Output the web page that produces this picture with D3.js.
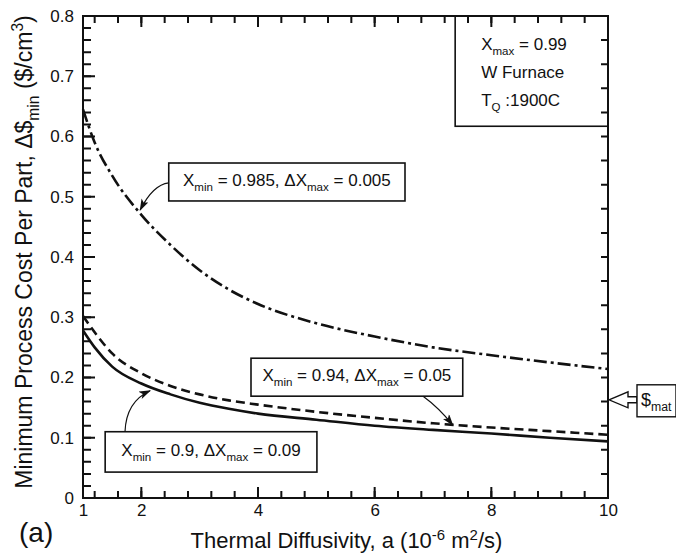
<!DOCTYPE html>
<html>
<head>
<meta charset="utf-8">
<script src="https://cdn.jsdelivr.net/npm/d3@7"></script>
<style>
  body { margin: 0; background: #fff; overflow: hidden; }
  svg { display: block; }
  text { font-family: "Liberation Sans", Arial, sans-serif; fill: #111; }
</style>
</head>
<body>
<div id="chart"></div>
<script>
// SVG area dimensions
var svgWidth = 676;
var svgHeight = 558;

// plot frame (pixel box of the axes)
var chartMargin = { top: 16, right: 68, bottom: 60, left: 83 };
var chartWidth = svgWidth - chartMargin.left - chartMargin.right;
var chartHeight = svgHeight - chartMargin.top - chartMargin.bottom;

// thermal diffusivity values the curves were read at
var diffusivity = [1, 1.2, 1.5, 2, 2.5, 3, 3.5, 4, 5, 6, 7, 8, 9, 10];
// minimum process cost per part, one array per curve
var costXmin0985 = [0.645, 0.59, 0.535, 0.47, 0.42, 0.378, 0.346, 0.322, 0.29, 0.268, 0.25, 0.237, 0.225, 0.214];
var costXmin094 = [0.302, 0.275, 0.24, 0.207, 0.186, 0.172, 0.162, 0.155, 0.143, 0.133, 0.124, 0.117, 0.111, 0.105];
var costXmin09 = [0.278, 0.25, 0.218, 0.19, 0.172, 0.158, 0.148, 0.14, 0.13, 0.12, 0.113, 0.107, 0.1, 0.094];
// material cost marker on the right axis
var matCost = 0.163;

// tick values
var xMajorTicks = [2, 4, 6, 8];
var xTickLabels = [1, 2, 4, 6, 8, 10];
var xMinorTicks = d3.range(3, 25).map(k => +(k * 0.4).toFixed(1));
var yMajorTicks = [0, 0.1, 0.2, 0.3, 0.4, 0.5, 0.6, 0.7, 0.8];
var yMinorTicks = d3.range(1, 40).map(k => +(k * 0.02).toFixed(2));
var yRightTicks = d3.range(1, 20).map(k => +(k * 0.04).toFixed(2));

var svg = d3.select("#chart")
  .append("svg")
  .attr("width", svgWidth)
  .attr("height", svgHeight);

var chartGroup = svg.append("g")
  .attr("transform", `translate(${chartMargin.left}, ${chartMargin.top})`);

var xScale = d3.scaleLinear().domain([1, 10]).range([0, chartWidth]);
var yScale = d3.scaleLinear().domain([0, 0.8]).range([chartHeight, 0]);

// ---- curves
var curveLine = d3.line()
  .x(d => xScale(d[0]))
  .y(d => yScale(d[1]))
  .curve(d3.curveMonotoneX);

var curves = [
  { values: costXmin0985, dash: "13,4,3,4" },
  { values: costXmin094, dash: "9,5" },
  { values: costXmin09, dash: null }
];

chartGroup.selectAll(".curve")
  .data(curves)
  .enter()
  .append("path")
  .attr("class", "curve")
  .attr("d", c => curveLine(diffusivity.map((a, i) => [a, c.values[i]])))
  .attr("fill", "none")
  .attr("stroke", "#111")
  .attr("stroke-width", 2.6)
  .attr("stroke-dasharray", c => c.dash);

// ---- arrow marker
svg.append("defs").append("marker")
  .attr("id", "head")
  .attr("viewBox", "0 0 12 8")
  .attr("refX", 11)
  .attr("refY", 4)
  .attr("markerWidth", 12)
  .attr("markerHeight", 8)
  .attr("markerUnits", "userSpaceOnUse")
  .attr("orient", "auto")
  .append("path")
  .attr("d", "M0,0 L12,4 L0,8 L3,4 Z")
  .attr("fill", "#111");

// text with subscripts: parts = [[text, "sub"|"sup"|null], ...]
function richText(sel, parts, size) {
  var t = sel.attr("font-size", size);
  var shift = 0;
  parts.forEach(function(p) {
    var target = p[1] === "sub" ? size * 0.3 : p[1] === "sup" ? -size * 0.38 : 0;
    t.append("tspan")
      .attr("dy", target - shift)
      .attr("font-size", p[1] ? size * 0.68 : size)
      .text(p[0]);
    shift = target;
  });
  return t;
}

// ---- labelled boxes (positions in data units)
var labelBoxes = [
  { x0: 2.47, x1: 6.52, y0: 0.556, y1: 0.493,
    parts: [["X", null], ["min", "sub"], [" = 0.985, \u0394X", null], ["max", "sub"], [" = 0.005", null]],
    arrow: { from: [2.47, 0.523], ctrl: [2.2, 0.52], to: [1.98, 0.478] } },
  { x0: 3.88, x1: 7.51, y0: 0.232, y1: 0.169,
    parts: [["X", null], ["min", "sub"], [" = 0.94, \u0394X", null], ["max", "sub"], [" = 0.05", null]],
    arrow: { from: [6.83, 0.169], ctrl: [7.1, 0.15], to: [7.34, 0.121] } },
  { x0: 1.38, x1: 5.01, y0: 0.11, y1: 0.043,
    parts: [["X", null], ["min", "sub"], [" = 0.9, \u0394X", null], ["max", "sub"], [" = 0.09", null]],
    arrow: { from: [1.72, 0.11], ctrl: [1.74, 0.16], to: [2.15, 0.178] } }
];

labelBoxes.forEach(function(b) {
  chartGroup.append("rect")
    .attr("x", xScale(b.x0))
    .attr("y", yScale(b.y0))
    .attr("width", xScale(b.x1) - xScale(b.x0))
    .attr("height", yScale(b.y1) - yScale(b.y0))
    .attr("fill", "#fff")
    .attr("stroke", "#111")
    .attr("stroke-width", 1.6);
  chartGroup.append("text")
    .attr("x", (xScale(b.x0) + xScale(b.x1)) / 2)
    .attr("y", (yScale(b.y0) + yScale(b.y1)) / 2 + 4)
    .attr("text-anchor", "middle")
    .call(richText, b.parts, 17);
  var p = d3.path();
  p.moveTo(xScale(b.arrow.from[0]), yScale(b.arrow.from[1]));
  p.quadraticCurveTo(xScale(b.arrow.ctrl[0]), yScale(b.arrow.ctrl[1]),
    xScale(b.arrow.to[0]), yScale(b.arrow.to[1]));
  chartGroup.append("path")
    .attr("d", p.toString())
    .attr("fill", "none")
    .attr("stroke", "#111")
    .attr("stroke-width", 1.2)
    .attr("marker-end", "url(#head)");
});

// ---- conditions box, top right
chartGroup.append("rect")
  .attr("x", xScale(7.38))
  .attr("y", 0)
  .attr("width", xScale(10) - xScale(7.38))
  .attr("height", yScale(0.617))
  .attr("fill", "none")
  .attr("stroke", "#111")
  .attr("stroke-width", 1.6);

var condLines = [
  [["X", null], ["max", "sub"], [" = 0.99", null]],
  [["W Furnace", null]],
  [["T", null], ["Q", "sub"], [" :1900C", null]]
];
condLines.forEach(function(parts, i) {
  chartGroup.append("text")
    .attr("x", xScale(7.38) + 26)
    .attr("y", 34 + i * 28)
    .call(richText, parts, 17);
});

// ---- material cost marker: hollow arrow pointing at the right axis
var mx = chartWidth + 1;
var my = yScale(matCost);
chartGroup.append("path")
  .attr("d", `M${mx},${my} L${mx + 19},${my - 8} L${mx + 19},${my - 3} L${mx + 28},${my - 3}` +
    ` L${mx + 28},${my + 3} L${mx + 19},${my + 3} L${mx + 19},${my + 8} Z`)
  .attr("fill", "#fff")
  .attr("stroke", "#111")
  .attr("stroke-width", 1.4);
chartGroup.append("rect")
  .attr("x", mx + 28)
  .attr("y", my - 15)
  .attr("width", 39)
  .attr("height", 32)
  .attr("fill", "#fff")
  .attr("stroke", "#111")
  .attr("stroke-width", 1.4);
chartGroup.append("text")
  .attr("x", mx + 32)
  .attr("y", my + 6)
  .call(richText, [["$", null], ["mat", "sub"]], 18);

// ---- inward tick marks, one path per side, placed with the scales
function tickPath(values, scale, side, len) {
  var p = d3.path();
  values.forEach(function(v) {
    var s = scale(v);
    if (side === "bottom") { p.moveTo(s, chartHeight); p.lineTo(s, chartHeight - len); }
    if (side === "top") { p.moveTo(s, 0); p.lineTo(s, len); }
    if (side === "left") { p.moveTo(0, s); p.lineTo(len, s); }
    if (side === "right") { p.moveTo(chartWidth, s); p.lineTo(chartWidth - len, s); }
  });
  return p.toString();
}

var tickSets = [
  [xMinorTicks, xScale, "bottom", 7],
  [xMajorTicks, xScale, "bottom", 11],
  [xMinorTicks, xScale, "top", 7],
  [xMajorTicks, xScale, "top", 11],
  [yMinorTicks, yScale, "left", 8],
  [yMajorTicks, yScale, "left", 12],
  [yRightTicks, yScale, "right", 7]
];

chartGroup.selectAll(".ticks")
  .data(tickSets)
  .enter()
  .append("path")
  .attr("class", "ticks")
  .attr("d", t => tickPath(t[0], t[1], t[2], t[3]))
  .attr("fill", "none")
  .attr("stroke", "#111")
  .attr("stroke-width", 2);

// ---- tick labels from the axes
function styleAxis(g) {
  g.select(".domain").remove();
  g.selectAll(".tick text").attr("font-size", 17);
}

chartGroup.append("g")
  .attr("transform", `translate(0, ${chartHeight})`)
  .call(d3.axisBottom(xScale).tickValues(xTickLabels).tickSize(0).tickPadding(6).tickFormat(d3.format("d")))
  .call(styleAxis);

chartGroup.append("g")
  .call(d3.axisLeft(yScale).tickValues(yMajorTicks).tickSize(0).tickPadding(9)
    .tickFormat(d => d === 0 ? "0" : d3.format(".1f")(d)))
  .call(styleAxis);

// frame
chartGroup.append("rect")
  .attr("width", chartWidth)
  .attr("height", chartHeight)
  .attr("fill", "none")
  .attr("stroke", "#111")
  .attr("stroke-width", 2);

// ---- axis titles
svg.append("text")
  .attr("x", chartMargin.left + chartWidth / 2 + 1)
  .attr("y", 548)
  .attr("text-anchor", "middle")
  .call(richText, [["Thermal Diffusivity,  a (10", null], ["-6", "sup"], [" m", null], ["2", "sup"], ["/s)", null]], 22);

svg.append("text")
  .attr("transform", "translate(32, 252) rotate(-90)")
  .attr("text-anchor", "middle")
  .call(richText, [["Minimum Process Cost Per Part,  \u0394$", null], ["min", "sub"], [" ($/cm", null], ["3", "sup"], [")", null]], 23);

svg.append("text")
  .attr("x", 19)
  .attr("y", 542)
  .attr("font-size", 28)
  .text("(a)");
</script>
</body>
</html>
